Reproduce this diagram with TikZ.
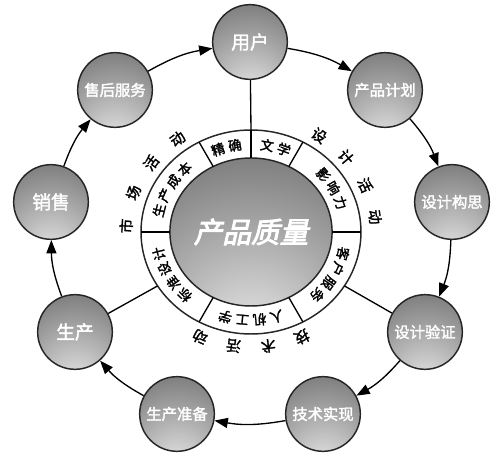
\documentclass[tikz,border=0pt]{standalone}
\usepackage{fontspec}
\usetikzlibrary{arrows.meta,shapes.geometric,backgrounds}
\newfontfamily\cjk{Noto Sans CJK SC}[FakeBold=2]
\newfontfamily\cjkhub{Noto Sans CJK SC}[FakeBold=3,FakeSlant=0.22]

\pgfdeclareradialshading{glassball}{\pgfpoint{0bp}{-40bp}}{%
    color(0bp)=(black!6); color(22bp)=(black!28); color(45bp)=(black!50); color(90bp)=(black!60)}
\pgfdeclareradialshading{discshade}{\pgfpoint{0bp}{0bp}}{%
    color(0bp)=(white); color(26bp)=(white); color(50bp)=(black!24)}

\tikzset{
    ball/.style={circle, draw=black!85, line width=1.1pt, shading=glassball, minimum size=56pt,
        inner sep=0pt, text=white, font=\cjk\fontsize{11.5}{12}\selectfont},
    bigball/.style={ball, font=\cjk\fontsize{14}{14}\selectfont},
    hubball/.style={ellipse, draw=black!85, line width=1.1pt, shading=glassball, minimum width=120pt,
        minimum height=111pt, inner sep=0pt, outer sep=0pt, text=white, font=\cjkhub\fontsize{21.5}{22}\selectfont},
    ringband/.style={ellipse, draw=black!85, line width=1.1pt, fill=white, minimum width=165pt,
        minimum height=153pt, outer sep=0pt},
    flow/.style={line width=1pt, -{Triangle[length=10pt,width=7.5pt]}},
    spoke/.style={line width=1pt},
    sectortext/.style={font=\cjk\fontsize{10}{10}\selectfont, inner sep=0pt},
    activitytext/.style={font=\cjk\fontsize{11}{11}\selectfont, inner sep=0pt}
}

% characters set one by one along an arc round the hub
% #1 name, #2 style, #3 radii, #4 first angle, #5 step, #6 characters
\newcommand{\arctext}[6]{%
    \foreach \ch [count=\k from 0] in {#6} {
        \pgfmathsetmacro{\ang}{#4-\k*#5}
        \node[#2, rotate=\ang-90] (#1\k) at (\ang:#3) {\ch};
    }
}

\begin{document}
\begin{tikzpicture}[x=0.75pt,y=0.75pt]
    \useasboundingbox (-251,-227) rectangle (249,232);

    % Outer loop
    \node[bigball] (user) at (-1,190) {用户};
    \node[ball] (plan) at (134,142) {产品计划};
    \node[ball] (concept) at (201,30) {设计构思};
    \node[ball] (verify) at (174,-100) {设计验证};
    \node[ball] (realize) at (72,-182) {技术实现};
    \node[ball] (prep) at (-74,-182) {生产准备};
    \node[bigball] (make) at (-176,-100) {生产};
    \node[bigball] (sales) at (-200,30) {销售};
    \node[ball] (service) at (-136,142) {售后服务};

    \begin{scope}[on background layer]
        \shade[shading=discshade] (user.center) to[bend left=10] (plan.center)
            to[bend left=10] (concept.center) to[bend left=10] (verify.center)
            to[bend left=10] (realize.center) to[bend left=10] (prep.center)
            to[bend left=10] (make.center) to[bend left=10] (sales.center)
            to[bend left=10] (service.center) to[bend left=10] (user.center) -- cycle;
    \end{scope}

    \foreach \a/\b in {user/plan, plan/concept, concept/verify, verify/realize, realize/prep,
        prep/make, make/sales, sales/service, service/user}
        \draw[flow] (\a) to[bend left=10] (\b);

    % Ring and hub
    \node[ringband] (ring) at (0,0) {};
    \node[hubball] (hub) at (0,0) {产品质量};
    \foreach \a in {0,60,90,120,180,240,300}
        \draw[spoke] (hub.\a) -- (ring.\a);

    \draw[spoke] (ring.90) -- (user);
    \draw[spoke] (ring.-30) -- (verify);
    \draw[spoke] (ring.-150) -- (make);

    % Sector labels
    \arctext{exact}{sectortext}{95 and 88}{110.25}{10.5}{精,确}
    \arctext{letters}{sectortext}{95 and 88}{80.25}{10.5}{文,学}
    \arctext{impact}{sectortext}{95 and 88}{40.5}{10.5}{影,响,力}
    \arctext{client}{sectortext}{95 and 88}{-14.25}{10.5}{客,户,服,务}
    \arctext{ergo}{sectortext}{95 and 88}{-74.25}{10.5}{人,机,工,学}
    \arctext{norm}{sectortext}{95 and 88}{-134.25}{10.5}{标,准,设,计}
    \arctext{cost}{sectortext}{95 and 88}{165.75}{10.5}{生,产,成,本}

    % Activity labels
    \arctext{market}{activitytext}{125 and 115}{177}{17}{市,场,活,动}
    \arctext{design}{activitytext}{125 and 115}{57}{16.5}{设,计,活,动}
    \arctext{tech}{activitytext}{125 and 115}{-66}{16}{技,术,活,动}
\end{tikzpicture}
\end{document}
